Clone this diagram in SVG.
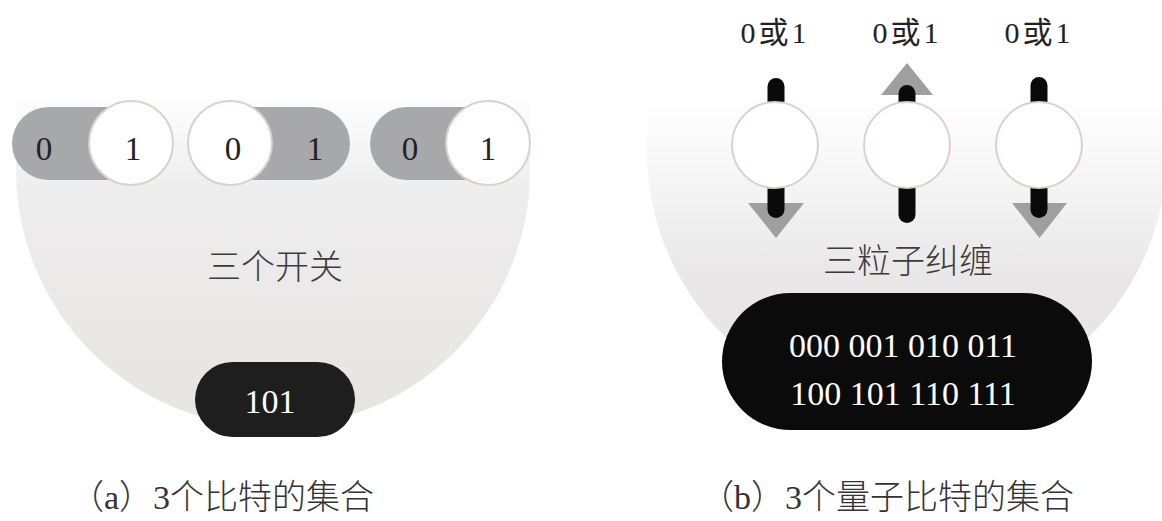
<svg xmlns="http://www.w3.org/2000/svg" width="1162" height="521" viewBox="0 0 1162 521">
  <defs>
    <linearGradient id="gradL" x1="0" y1="90" x2="0" y2="430" gradientUnits="userSpaceOnUse">
      <stop offset="0" stop-color="#ffffff"/>
      <stop offset="0.3" stop-color="#eeeded"/>
      <stop offset="1" stop-color="#e6e4e3"/>
    </linearGradient>
    <linearGradient id="gradR" x1="0" y1="100" x2="0" y2="420" gradientUnits="userSpaceOnUse">
      <stop offset="0" stop-color="#ffffff"/>
      <stop offset="0.3" stop-color="#f3f3f3"/>
      <stop offset="0.55" stop-color="#e9e7e7"/>
      <stop offset="1" stop-color="#e5e3e3"/>
    </linearGradient>
    <style>
      .txt { font-family: "Liberation Serif", "Noto Sans CJK SC", serif; }
      .track { fill: #a7a8a9; }
      .knob { fill: #ffffff; stroke: #dccfcf; stroke-width: 2; }
      .bit { font-size: 33px; fill: #222222; text-anchor: middle; }
      .lbl { font-size: 34px; fill: #3c3c3c; text-anchor: middle; font-weight: 300; }
      .cap { font-size: 34px; fill: #333333; font-weight: 300; }
      .res { font-size: 34px; fill: #ffffff; text-anchor: middle; }
      .bar { fill: #0a0a0a; }
      .tri { fill: #9f9f9f; }
      .ball { fill: #ffffff; stroke: #dcd0d0; stroke-width: 2; }
      .q { font-size: 30px; fill: #222222; text-anchor: middle; letter-spacing: 3px; }
    </style>
  </defs>
  <rect x="0" y="0" width="1162" height="521" fill="#ffffff"/>

  <!-- (a) panel -->
  <g id="bowl-a">
    <path d="M16,90 L530,90 L530,170 A257,257 0 0 1 16,170 Z" fill="url(#gradL)"/>
  </g>
  <g id="switch-1">
    <rect class="track" x="12" y="107" width="160" height="73" rx="36.5"/>
    <circle class="knob" cx="131" cy="143" r="42"/>
    <text class="txt bit" x="44" y="160">0</text>
    <text class="txt bit" x="133" y="160">1</text>
  </g>
  <g id="switch-2">
    <rect class="track" x="188" y="107" width="162" height="73" rx="36.5"/>
    <circle class="knob" cx="230" cy="143" r="42"/>
    <text class="txt bit" x="233" y="160">0</text>
    <text class="txt bit" x="315" y="160">1</text>
  </g>
  <g id="switch-3">
    <rect class="track" x="370" y="107" width="160" height="73" rx="36.5"/>
    <circle class="knob" cx="488" cy="143" r="42"/>
    <text class="txt bit" x="410" y="160">0</text>
    <text class="txt bit" x="488" y="160">1</text>
  </g>
  <g id="label-a">
    <text class="txt lbl" x="275" y="279">三个开关</text>
  </g>
  <g id="result-a">
    <rect x="195" y="362" width="160" height="75" rx="37.5" fill="#1e1e1e"/>
    <text class="txt res" x="270" y="413">101</text>
  </g>

  <!-- (b) panel -->
  <g id="bowl-b">
    <path d="M647,100 L1167,100 L1167,151 A260,260 0 0 1 647,151 Z" fill="url(#gradR)"/>
  </g>
  <g id="qubit-1">
    <text class="txt q" x="775" y="43">0或1</text>
    <polygon class="tri" points="748,203 804,203 776,238"/>
    <rect class="bar" x="767.5" y="78" width="17" height="40" rx="8.5"/>
    <rect class="bar" x="767.5" y="175" width="17" height="43" rx="8.5"/>
    <circle class="ball" cx="775" cy="145" r="43"/>
  </g>
  <g id="qubit-2">
    <text class="txt q" x="907" y="43">0或1</text>
    <polygon class="tri" points="881,95 933,95 907,63"/>
    <rect class="bar" x="898.5" y="85" width="17" height="35" rx="8.5"/>
    <rect class="bar" x="898.5" y="175" width="17" height="48" rx="8.5"/>
    <circle class="ball" cx="907" cy="145" r="43"/>
  </g>
  <g id="qubit-3">
    <text class="txt q" x="1039" y="43">0或1</text>
    <polygon class="tri" points="1012,203 1067,203 1039.5,238"/>
    <rect class="bar" x="1030.5" y="77" width="17" height="40" rx="8.5"/>
    <rect class="bar" x="1030.5" y="175" width="17" height="43" rx="8.5"/>
    <circle class="ball" cx="1039" cy="145" r="43"/>
  </g>
  <g id="label-b">
    <text class="txt lbl" x="908" y="273">三粒子纠缠</text>
  </g>
  <g id="result-b">
    <rect x="722" y="293" width="370" height="137" rx="68.5" fill="#0b0b0b"/>
    <text class="txt res" x="903" y="357">000 001 010 011</text>
    <text class="txt res" x="903" y="405">100 101 110 111</text>
  </g>

  <g id="connectors"></g>

  <g id="captions">
    <text id="caption-a" class="txt cap" x="70" y="509">（a）3个比特的集合</text>
    <text id="caption-b" class="txt cap" x="700" y="509">（b）3个量子比特的集合</text>
  </g>
</svg>
